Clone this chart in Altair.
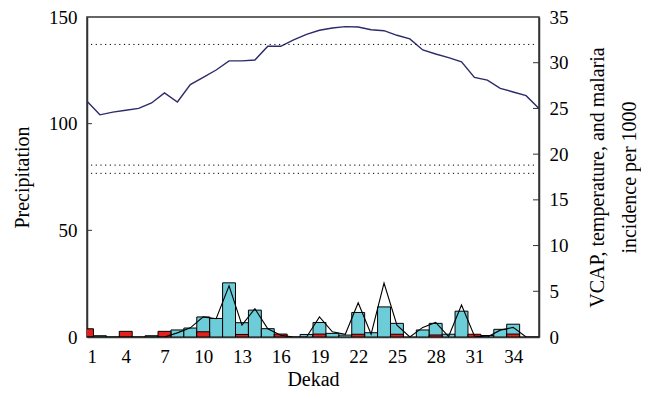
import altair as alt
import pandas as pd

dekad = list(range(1, 37))
precipitation = [0, 0.6, 0, 0, 0, 0.6, 0, 3.3, 4.2, 9.4, 8.7, 25.4, 6.7, 12.6, 3.9, 0, 0, 1.2,
                 6.8, 1.7, 0.9, 11.5, 2.0, 14.1, 6.4, 0, 3.3, 6.4, 1.3, 12.1, 0, 0.7, 3.6, 6.0, 0, 0]
vcap = [0.9, 0, 0, 0.62, 0, 0, 0.62, 0, 0, 0.57, 0, 0, 0.28, 0, 0, 0.32, 0, 0,
        0.32, 0, 0, 0.3, 0, 0, 0.3, 0, 0, 0.22, 0, 0, 0.3, 0, 0, 0.32, 0, 0]
malaria = [0, 0, 0, 0, 0, 0, 0, 0.45, 1.0, 2.2, 2.0, 5.6, 1.3, 3.1, 0.9, 0.2, 0, 0,
           2.2, 0.57, 0.3, 3.75, 0.3, 5.9, 1.3, 0, 1.05, 1.6, 0.05, 3.5, 0.1, 0, 0.75, 1.05, 0, 0]
temperature = [25.8, 24.3, 24.6, 24.8, 25.0, 25.6, 26.7, 25.7, 27.6, 28.4, 29.2, 30.2,
               30.2, 30.3, 31.8, 31.8, 32.5, 33.1, 33.55, 33.8, 33.95, 33.9, 33.6, 33.5,
               33.0, 32.6, 31.4, 30.95, 30.55, 30.1, 28.4, 28.1, 27.2, 26.8, 26.4, 25.0]
thresholds = [32, 18.8, 17.9]
x_ticks = [1, 4, 7, 10, 13, 16, 19, 22, 25, 28, 31, 34]
left_ticks = [50, 100]
left_labels = [0, 50, 100, 150]
right_ticks = [5, 10, 15, 20, 25, 30]
right_labels = [0, 5, 10, 15, 20, 25, 30, 35]

df = pd.DataFrame({"dekad": dekad, "precipitation": precipitation, "vcap": vcap,
                   "malaria": malaria, "temperature": temperature})
df["x0"] = df["dekad"] - 0.5
df["x1"] = df["dekad"] + 0.5

W, H = 452, 320
FONT = "Liberation Serif"
CYAN = "#6ccdd9"
RED = "#e3201e"
NAVY = "#2b2a6b"

xscale = alt.Scale(domain=[1, 36], nice=False, zero=False)
yl = alt.Scale(domain=[0, 150], nice=False)
yr = alt.Scale(domain=[0, 35], nice=False)

xaxis = alt.Axis(values=x_ticks, title="Dekad", labelPadding=10, titlePadding=3, orient="bottom")
ylaxis = alt.Axis(values=left_labels, title="Precipitation", labelPadding=10,
                  titlePadding=16, orient="left")
yraxis = alt.Axis(values=right_labels, orient="right", labelPadding=10,
                  title=["VCAP, temperature, and malaria", "incidence per 1000"],
                  titleAngle=270, titlePadding=7, titleLineHeight=32)

base = alt.Chart(df)

cyan = base.transform_filter("datum.precipitation > 0").mark_bar(
    color=CYAN, stroke="black", strokeWidth=1, clip=True
).encode(
    x=alt.X("x0:Q", scale=xscale, axis=xaxis),
    x2="x1:Q",
    y=alt.Y("precipitation:Q", scale=yl, axis=ylaxis),
    y2=alt.Y2(datum=0),
)

lticks = alt.Chart(pd.DataFrame({"v": left_ticks})).mark_rule(color="#333", strokeWidth=1).encode(
    y=alt.Y("v:Q", scale=yl, axis=ylaxis),
    x=alt.value(0), x2=alt.value(5),
)

left = alt.layer(cyan, lticks)

red = base.transform_filter("datum.vcap > 0").mark_bar(
    color=RED, stroke="black", strokeWidth=1, clip=True
).encode(
    x=alt.X("x0:Q", scale=xscale, axis=xaxis),
    x2="x1:Q",
    y=alt.Y("vcap:Q", scale=yr, axis=yraxis),
    y2=alt.Y2(datum=0),
)

mal = base.mark_line(color="black", strokeWidth=1.1, clip=True).encode(
    x=alt.X("dekad:Q", scale=xscale, axis=xaxis),
    y=alt.Y("malaria:Q", scale=yr, axis=yraxis),
)

temp = base.mark_line(color=NAVY, strokeWidth=1.4, clip=True).encode(
    x=alt.X("dekad:Q", scale=xscale, axis=xaxis),
    y=alt.Y("temperature:Q", scale=yr, axis=yraxis),
)

dots = alt.Chart(pd.DataFrame({"t": thresholds})).mark_rule(
    color="black", strokeWidth=1, strokeDash=[1.2, 3.5]
).encode(
    y=alt.Y("t:Q", scale=yr, axis=yraxis),
    x=alt.value(4), x2=alt.value(W - 4),
)

rticks = alt.Chart(pd.DataFrame({"v": right_ticks})).mark_rule(color="#333", strokeWidth=1).encode(
    y=alt.Y("v:Q", scale=yr, axis=yraxis),
    x=alt.value(W - 6), x2=alt.value(W),
)

right = alt.layer(red, mal, temp, dots, rticks)

chart = alt.layer(left, right).resolve_scale(y="independent").properties(
    width=W, height=H,
    padding={"left": 79, "top": 9, "right": 102, "bottom": 57},
    autosize=alt.AutoSizeParams(type="none"),
).configure_view(
    stroke="#333", strokeWidth=1.5
).configure_axis(
    domainColor="#333", domainWidth=1.5, tickSize=0, grid=False,
    labelFont=FONT, labelFontSize=19, labelColor="black",
    titleFont=FONT, titleFontSize=20, titleFontWeight="normal", titleColor="black",
)

chart.save("out.html", embed_options={"renderer": "svg", "actions": False})
